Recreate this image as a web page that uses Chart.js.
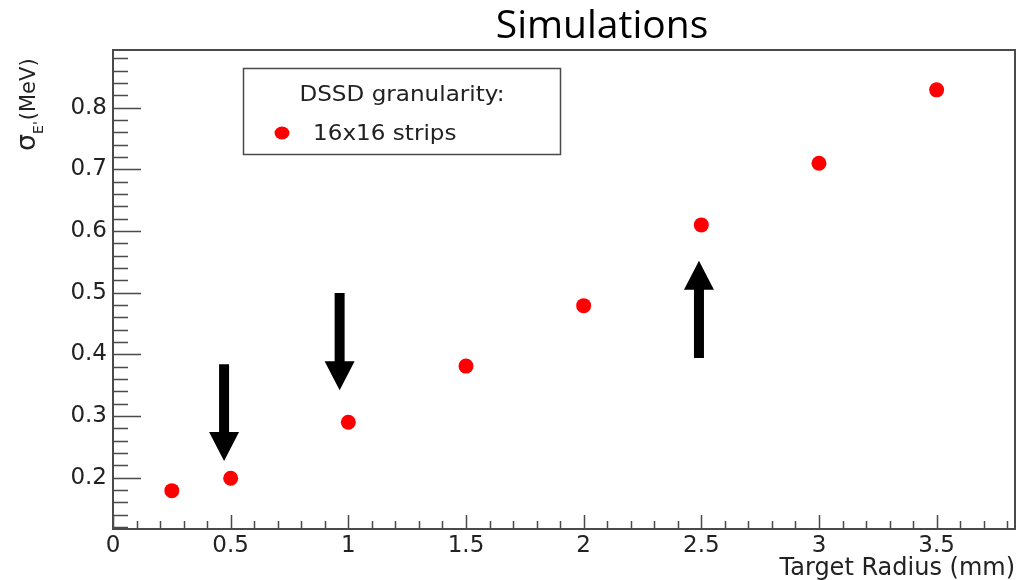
<!DOCTYPE html>
<html>
<head>
<meta charset="utf-8">
<script src="https://cdn.jsdelivr.net/npm/chart.js@4/dist/chart.umd.min.js"></script>
<style>
  html, body { margin: 0; padding: 0; background: #fff; }
  #wrap { width: 1016px; height: 580px; }
</style>
</head>
<body>
<div id="wrap"><canvas id="myChart" width="1016" height="580"></canvas></div>
<script>
// data
const radius = [0.25, 0.5, 1, 1.5, 2, 2.5, 3, 3.5];           // Target Radius (mm)
const sigmaE = [0.179, 0.199, 0.290, 0.381, 0.479, 0.610, 0.710, 0.829]; // sigma E' (MeV)
const serieNombre = '16x16 strips';
const legendTitulo = 'DSSD granularity:';
const titulo = 'Simulations';
const xTitulo = 'Target Radius (mm)';
// arrows in data units: x, tail y, tip y
const flechasX = [0.472, 0.963, 2.49];
const flechasDesde = [0.384, 0.4995, 0.394];
const flechasHasta = [0.227, 0.342, 0.552];

const fuente = "'DejaVu Sans', sans-serif";
const gris = '#4a4a4a';

// draws frame, inner ticks, arrows, title, y label, legend
const extras = {
  id: 'extras',
  afterDraw(chart) {
    const ctx = chart.ctx;
    const a = chart.chartArea;
    const xs = chart.scales.x, ys = chart.scales.y;
    ctx.save();

    // inner tick marks (ROOT style)
    ctx.strokeStyle = gris;
    ctx.lineWidth = 1.5;
    ctx.beginPath();
    for (let k = Math.ceil(xs.min / 0.1 - 1e-6); k <= Math.floor(xs.max / 0.1 + 1e-6); k++) {
      const px = Math.round(xs.getPixelForValue(k * 0.1)) + 0.5;
      const len = (k % 5 === 0) ? 14 : 8;
      ctx.moveTo(px, a.bottom);
      ctx.lineTo(px, a.bottom - len);
    }
    for (let k = Math.ceil(ys.min / 0.02 - 1e-6); k <= Math.floor(ys.max / 0.02 + 1e-6); k++) {
      const py = Math.round(ys.getPixelForValue(k * 0.02)) + 0.5;
      const len = (k % 5 === 0) ? 28 : 15;
      ctx.moveTo(a.left, py);
      ctx.lineTo(a.left + len, py);
    }
    ctx.stroke();

    // frame
    ctx.lineWidth = 2;
    ctx.strokeRect(a.left, a.top, a.right - a.left, a.bottom - a.top);

    // arrows
    ctx.fillStyle = '#000';
    for (let i = 0; i < flechasX.length; i++) {
      const px = xs.getPixelForValue(flechasX[i]);
      const y0 = ys.getPixelForValue(flechasDesde[i]);
      const y1 = ys.getPixelForValue(flechasHasta[i]);
      const dir = y1 > y0 ? 1 : -1;
      const cab = 29, medio = 15, eje = 5;
      const yb = y1 - dir * cab;
      ctx.beginPath();
      ctx.moveTo(px - eje, y0);
      ctx.lineTo(px + eje, y0);
      ctx.lineTo(px + eje, yb);
      ctx.lineTo(px + medio, yb);
      ctx.lineTo(px, y1);
      ctx.lineTo(px - medio, yb);
      ctx.lineTo(px - eje, yb);
      ctx.closePath();
      ctx.fill();
    }

    // title
    ctx.fillStyle = '#000';
    ctx.font = "39px 'Open Sans', sans-serif";
    ctx.textAlign = 'center';
    ctx.textBaseline = 'alphabetic';
    ctx.fillText(titulo, 602, 38);

    // y axis label with subscript
    ctx.save();
    ctx.translate(35, 151);
    ctx.rotate(-Math.PI / 2);
    ctx.textAlign = 'left';
    ctx.fillStyle = '#222';
    ctx.font = '27px ' + fuente;
    ctx.fillText('σ', 0, 0);
    let w = ctx.measureText('σ').width;
    ctx.font = '14px ' + fuente;
    ctx.fillText("E'", w, 8);
    w += ctx.measureText("E'").width + 1;
    ctx.font = '21px ' + fuente;
    ctx.fillText('(MeV)', w, 0);
    ctx.restore();

    // legend box
    const ds = chart.data.datasets[0];
    ctx.strokeStyle = gris;
    ctx.lineWidth = 1.5;
    ctx.strokeRect(243.5, 68.5, 317, 86);
    ctx.fillStyle = '#222';
    ctx.save();
    ctx.translate(402, 101);
    ctx.scale(1.1, 1);
    ctx.font = '21px ' + fuente;
    ctx.textAlign = 'center';
    ctx.fillText(legendTitulo, 0, 0);
    ctx.restore();
    ctx.save();
    ctx.translate(313, 140);
    ctx.scale(1.1, 1);
    ctx.font = '21px ' + fuente;
    ctx.textAlign = 'left';
    ctx.fillText(ds.label, 0, 0);
    ctx.restore();
    ctx.fillStyle = ds.backgroundColor;
    ctx.beginPath();
    ctx.ellipse(282, 133, 7.5, 6.5, 0, 0, Math.PI * 2);
    ctx.fill();

    ctx.restore();
  }
};

new Chart('myChart', {
  type: 'scatter',
  data: {
    datasets: [{
      label: serieNombre,
      data: radius.map((x, i) => ({ x: x, y: sigmaE[i] })),
      backgroundColor: '#ff0000',
      borderColor: '#ff0000',
      borderWidth: 0,
      pointRadius: 7.5,
      pointHoverRadius: 7.5
    }]
  },
  options: {
    responsive: false,
    animation: false,
    layout: { autoPadding: false, padding: { top: 50, right: 1, left: 0, bottom: 0 } },
    plugins: { legend: { display: false }, tooltip: { enabled: false } },
    scales: {
      x: {
        type: 'linear',
        min: 0,
        max: 3.833,
        grid: { display: false, drawTicks: false },
        border: { display: false },
        afterFit(s) { s.height = 51; s.paddingLeft = 0; s.paddingRight = 0; },
        ticks: {
          stepSize: 0.5,
          includeBounds: false,
          padding: 3,
          color: '#222',
          font: { family: fuente, size: 23 },
          callback: v => String(+v.toFixed(1))
        },
        title: {
          display: true,
          text: xTitulo,
          align: 'end',
          color: '#222',
          font: { family: fuente, size: 24 },
          padding: { top: 0, bottom: -3 }
        }
      },
      y: {
        type: 'linear',
        min: 0.1168,
        max: 0.8936,
        grid: { display: false, drawTicks: false },
        border: { display: false },
        afterFit(s) { s.width = 113; s.paddingTop = 0; s.paddingBottom = 0; },
        ticks: {
          stepSize: 0.1,
          includeBounds: false,
          padding: 6,
          color: '#222',
          font: { family: fuente, size: 23 },
          callback: v => v.toFixed(1)
        }
      }
    }
  },
  plugins: [extras]
});
</script>
</body>
</html>
